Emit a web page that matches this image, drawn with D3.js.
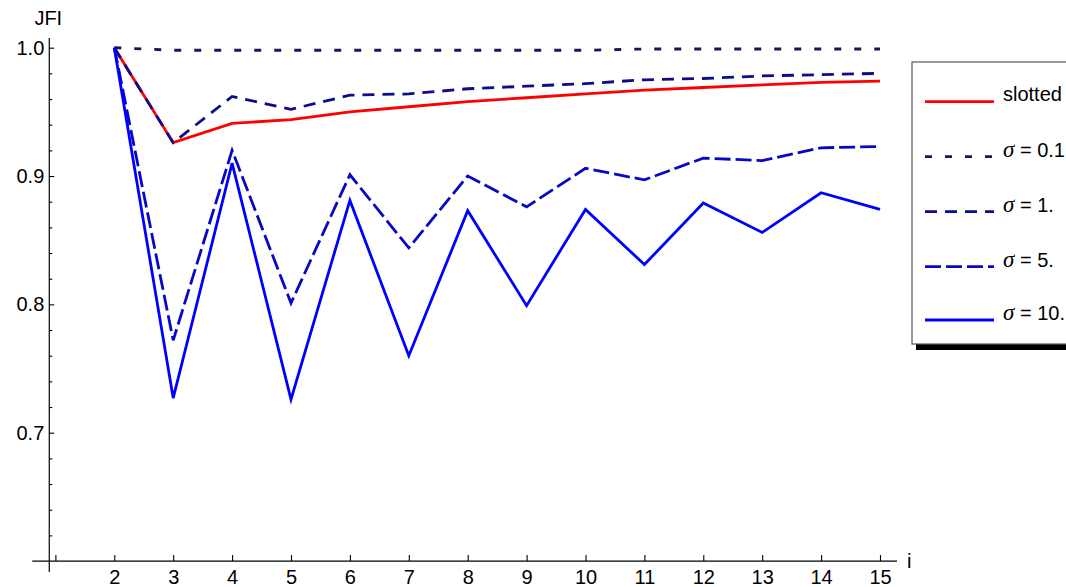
<!DOCTYPE html>
<html>
<head>
<meta charset="utf-8">
<script src="https://cdn.jsdelivr.net/npm/d3@7"></script>
<style>
  html, body { margin: 0; padding: 0; background: #fff; }
  svg { display: block; font-family: "Liberation Sans", Arial, sans-serif; }
</style>
</head>
<body>
<svg id="chart" width="1066" height="587"></svg>
<script>
// Jain's fairness index (JFI) versus i
const iValues = [2, 3, 4, 5, 6, 7, 8, 9, 10, 11, 12, 13, 14, 15];

const slotted = [1.0, 0.926, 0.941, 0.944, 0.950, 0.954, 0.958, 0.961, 0.964, 0.967, 0.969, 0.971, 0.973, 0.974];
const sigma01 = [1.0, 0.998, 0.998, 0.998, 0.998, 0.998, 0.998, 0.998, 0.998, 0.999, 0.999, 0.999, 0.999, 0.999];
const sigma1  = [1.0, 0.926, 0.962, 0.952, 0.963, 0.964, 0.968, 0.970, 0.972, 0.975, 0.976, 0.978, 0.979, 0.980];
const sigma5  = [1.0, 0.772, 0.920, 0.801, 0.901, 0.844, 0.900, 0.876, 0.906, 0.897, 0.914, 0.912, 0.922, 0.923];
const sigma10 = [1.0, 0.727, 0.910, 0.726, 0.881, 0.760, 0.873, 0.799, 0.874, 0.831, 0.879, 0.856, 0.887, 0.874];

const seriesNames = ["slotted", "0.1", "1.", "5.", "10."];
const seriesData = [slotted, sigma01, sigma1, sigma5, sigma10];
const seriesColors = ["#ff0000", "#16165a", "#0c0c8c", "#0808c4", "#0000ff"];
const seriesDash = [null, "7,13", "12,8", "16,5", null];

const xTicks = [1, 2, 3, 4, 5, 6, 7, 8, 9, 10, 11, 12, 13, 14, 15];
const xTickLabels = ["", "2", "3", "4", "5", "6", "7", "8", "9", "10", "11", "12", "13", "14", "15"];
const yMajorTicks = [0.7, 0.8, 0.9, 1.0];
const yMinorTicks = [0.62, 0.64, 0.66, 0.68, 0.72, 0.74, 0.76, 0.78, 0.82, 0.84, 0.86, 0.88, 0.92, 0.94, 0.96, 0.98];

const svg = d3.select("#chart");

const x = d3.scaleLinear().domain([2, 15]).range([114.3, 880]);
const y = d3.scaleLinear().domain([0.7, 1.0]).range([432.7, 47.7]);

const xOrigin = 0.896;   // where the vertical axis crosses
const yOrigin = 0.6;     // where the horizontal axis crosses

const fontSize = 20;
const lineWidth = 2.8;

// horizontal axis
const gx = svg.append("g")
  .attr("transform", `translate(0,${y(yOrigin)})`)
  .call(d3.axisBottom(x)
    .tickValues(xTicks)
    .tickFormat((d, k) => xTickLabels[k])
    .tickSize(-6)
    .tickPadding(9));
gx.select(".domain").remove();
gx.append("line")
  .attr("x1", x(xOrigin) - 17).attr("x2", 897)
  .attr("stroke", "#000").attr("stroke-width", 1.2);
gx.selectAll(".tick line").attr("stroke", "#000").attr("stroke-width", 1.1);
gx.selectAll(".tick text").attr("font-size", fontSize).attr("fill", "#000")
  .attr("font-family", "Liberation Sans, Arial, sans-serif");

// vertical axis: major and minor ticks pointing into the plot
const gy = svg.append("g")
  .attr("transform", `translate(${x(xOrigin)},0)`)
  .call(d3.axisLeft(y)
    .tickValues(yMajorTicks)
    .tickFormat(d3.format(".1f"))
    .tickSize(-5)
    .tickPadding(5));
gy.select(".domain").remove();
gy.append("line")
  .attr("y1", 38).attr("y2", 572)
  .attr("stroke", "#000").attr("stroke-width", 1.2);
gy.selectAll(".tick line").attr("stroke", "#000").attr("stroke-width", 1.1);
gy.selectAll(".tick text").attr("font-size", fontSize).attr("fill", "#000")
  .attr("font-family", "Liberation Sans, Arial, sans-serif");

const gyMinor = svg.append("g")
  .attr("transform", `translate(${x(xOrigin)},0)`)
  .call(d3.axisLeft(y)
    .tickValues(yMinorTicks)
    .tickFormat("")
    .tickSize(-3));
gyMinor.select(".domain").remove();
gyMinor.selectAll(".tick line").attr("stroke", "#000").attr("stroke-width", 1.1);

// axis titles
svg.append("text")
  .attr("x", x(xOrigin) - 1).attr("y", 25)
  .attr("text-anchor", "middle")
  .attr("font-size", fontSize)
  .text("JFI");
svg.append("text")
  .attr("x", 907).attr("y", y(yOrigin))
  .attr("dy", "0.35em")
  .attr("font-size", fontSize)
  .text("i");

// series lines
const line = d3.line()
  .x((d, k) => x(iValues[k]))
  .y(d => y(d));

const lines = svg.append("g").attr("fill", "none")
  .attr("stroke-linejoin", "miter").attr("stroke-linecap", "butt");
seriesData.forEach((vals, s) => {
  lines.append("path")
    .datum(vals)
    .attr("d", line)
    .attr("stroke", seriesColors[s])
    .attr("stroke-width", lineWidth)
    .attr("stroke-dasharray", seriesDash[s]);
});

// legend with drop shadow
const legend = svg.append("g");
legend.append("rect")
  .attr("x", 916).attr("y", 66).attr("width", 200).attr("height", 284)
  .attr("fill", "#000");
legend.append("rect")
  .attr("x", 912).attr("y", 62).attr("width", 200).attr("height", 282)
  .attr("fill", "#fff").attr("stroke", "#555").attr("stroke-width", 1.2);

const rowY = [101.7, 156.7, 211.7, 266.7, 320];
seriesNames.forEach((name, s) => {
  legend.append("line")
    .attr("x1", 925).attr("x2", 994)
    .attr("y1", rowY[s]).attr("y2", rowY[s])
    .attr("stroke", seriesColors[s])
    .attr("stroke-width", lineWidth)
    .attr("stroke-dasharray", seriesDash[s]);
  const t = legend.append("text")
    .attr("x", 1003).attr("y", rowY[s])
    .attr("font-size", fontSize);
  if (s === 0) {
    t.attr("y", rowY[s] - 1).text(name);
  } else {
    t.append("tspan")
      .attr("font-family", "Liberation Serif, Times New Roman, serif")
      .attr("font-style", "italic")
      .attr("font-size", fontSize + 3)
      .text("σ");
    t.append("tspan").text(" = " + name);
  }
});
</script>
</body>
</html>
